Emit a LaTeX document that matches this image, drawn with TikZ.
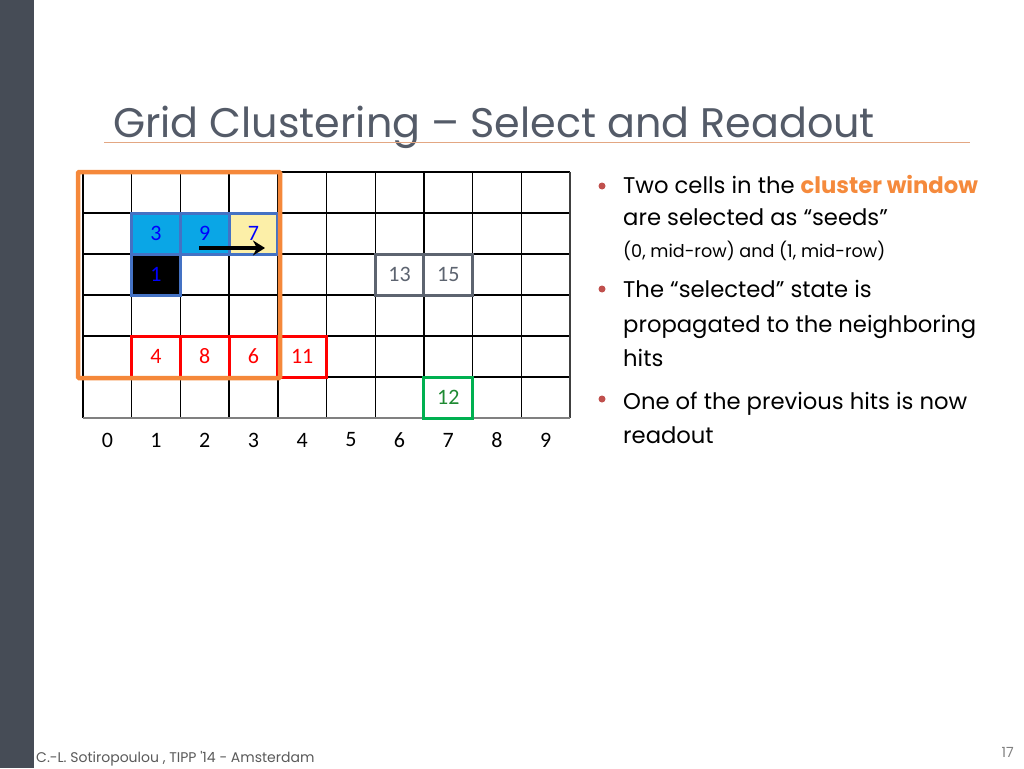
\documentclass[tikz,border=0pt]{standalone}
\usepackage{fontspec}
\setmainfont{Poppins}
\newfontfamily\calib{Carlito}
\usetikzlibrary{arrows.meta,calc}
\definecolor{barcol}{HTML}{464C56}
\definecolor{titlecol}{HTML}{545B68}
\definecolor{rulecol}{HTML}{E3A783}
\definecolor{wincol}{HTML}{F5883A}
\definecolor{seedfill}{HTML}{0AA6E6}
\definecolor{yelfill}{HTML}{FCEFA8}
\definecolor{seedline}{HTML}{4472C4}
\definecolor{greycol}{HTML}{5D6470}
\definecolor{greenline}{HTML}{00B050}
\definecolor{greentext}{HTML}{1E8A32}
\definecolor{bulletcol}{HTML}{C0504D}
\definecolor{footcol}{HTML}{5A5A5A}
\definecolor{hilite}{HTML}{F58A3C}
\tikzset{
  hitcell/.style={minimum width=48.7pt,minimum height=41pt,inner sep=0pt,line width=3pt,font=\calib\fontsize{22}{22}\selectfont},
  seedcell/.style={hitcell,draw=seedline,fill=seedfill,text=blue},
  redcell/.style={hitcell,draw=red,text=red},
  greycell/.style={hitcell,draw=greycol,text=greycol},
  greencell/.style={hitcell,draw=greenline,text=greentext},
  axislab/.style={font=\calib\fontsize{22}{22}\selectfont,inner sep=0pt},
  bultext/.style={anchor=base west,inner sep=0pt,font=\fontsize{22.7}{22.7}\selectfont},
  smalltext/.style={anchor=base west,inner sep=0pt,font=\fontsize{17.6}{17.6}\selectfont},
  bul/.style={fill=bulletcol,circle,inner sep=0pt,minimum size=7pt}
}
\begin{document}
\begin{tikzpicture}[x=1pt,y=-1pt]
\useasboundingbox (0,0) rectangle (1024,768);
\fill[white] (0,0) rectangle (1024,768);
\fill[barcol] (0,0) rectangle (34,768);
% title
\node[anchor=base west,inner sep=0pt,text=titlecol,font=\fontsize{41.3}{41.3}\selectfont] (title) at (113,137) {Grid Clustering -- Select and Readout};
\draw[rulecol,line width=1.5pt] (104,142.5) -- (970,142.5);
% grid
\def\cw{48.7}
\foreach \i in {0,...,10} { \draw[black,line width=1.4pt] ({83+\i*\cw},172) -- ({83+\i*\cw},418); }
\foreach \j in {0,...,6} { \draw[black,line width=1.4pt] (83,{172+\j*41}) -- (570,{172+\j*41}); }
\draw[darkgray,line width=2.2pt] (570,172) -- (570,418);
\draw[gray,line width=1.6pt] (83,418) -- (570,418);
% hit cells
\node[seedcell] (c3) at ({83+1.5*\cw},233.5) {3};
\node[seedcell] (c9) at ({83+2.5*\cw},233.5) {9};
\node[seedcell,fill=yelfill] (c7) at ({83+3.5*\cw},233.5) {7};
\node[seedcell,fill=black] (c1) at ({83+1.5*\cw},274.5) {1};
\node[greycell] (c13) at ({83+6.5*\cw},274.5) {13};
\node[greycell] (c15) at ({83+7.5*\cw},274.5) {15};
\node[redcell] (c4) at ({83+1.5*\cw},356.5) {4};
\node[redcell] (c8) at ({83+2.5*\cw},356.5) {8};
\node[redcell] (c6) at ({83+3.5*\cw},356.5) {6};
\node[redcell] (c11) at ({83+4.5*\cw},356.5) {11};
\node[greencell] (c12) at ({83+7.5*\cw},397.5) {12};
% arrow
\coordinate (arA) at (199,248);
\coordinate (arB) at (265,248);
\draw[line width=4pt,-{Stealth[length=12pt,width=15pt]}] (arA) -- (arB);
% cluster window
\draw[wincol,line width=4.5pt,rounded corners=1pt] (78,172) rectangle (280,378);
% axis labels
\foreach \k in {0,...,9} { \node[axislab] (ax\k) at ({83+(\k+0.5)*\cw},440) {\k}; }
% bullets
\node[bul] (b1) at (602,186) {};
\node[bul] (b2) at (602,289) {};
\node[bul] (b3) at (602,399) {};
\node[bultext] (t1) at (623,193) {Two cells in the \textcolor{hilite}{\textbf{cluster window}}};
\node[bultext] (t2) at (623,225) {are selected as “seeds”};
\node[smalltext] (t3) at (623,257) {(0, mid-row) and (1, mid-row)};
\node[bultext] (t4) at (623,297) {The “selected” state is};
\node[bultext] (t5) at (623,332) {propagated to the neighboring};
\node[bultext] (t6) at (623,366) {hits};
\node[bultext] (t7) at (623,409) {One of the previous hits is now};
\node[bultext] (t8) at (623,443) {readout};
% footer
\node[anchor=base west,inner sep=0pt,text=footcol,font=\fontsize{14}{14}\selectfont] (foot) at (36,762) {C.-L. Sotiropoulou , TIPP \textquotesingle14 - Amsterdam};
\node[anchor=base east,inner sep=0pt,text=gray,font=\fontsize{14}{14}\selectfont] (pg) at (1014,757) {17};
\end{tikzpicture}
\end{document}
